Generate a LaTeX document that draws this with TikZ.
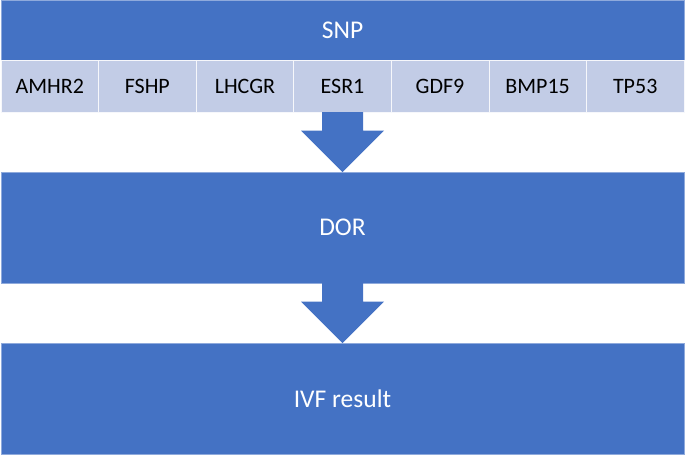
\documentclass[tikz,border=0pt]{standalone}
\usepackage{fontspec}
\setmainfont{Carlito}
\usetikzlibrary{positioning,calc}

\definecolor{boxblue}{RGB}{68,114,196}
\definecolor{boxedge}{RGB}{143,170,220}
\definecolor{cellblue}{RGB}{194,204,230}

\tikzset{
  bigbox/.style={fill=boxblue, draw=boxedge, line width=0.6pt, text=white,
    minimum width=683pt, inner sep=0pt, outer sep=0pt, anchor=north west,
    font=\fontsize{25.5}{30}\selectfont},
  genecell/.style={fill=cellblue, draw=white!85!cellblue, line width=0.6pt,
    minimum width=97.571pt, minimum height=52pt, inner sep=0pt, outer sep=0pt,
    anchor=north west, font=\fontsize{22}{26}\selectfont}
}

% block arrow from the bottom of #1 to the top of #2
\newcommand{\blockarrow}[2]{
  \fill[boxblue] ($(#1.south)+(-20.5,0)$) -- ($(#1.south)+(20.5,0)$)
    -- ($(#1.south)+(20.5,18.5)$) -- ($(#1.south)+(41.5,18.5)$)
    -- (#2.north)
    -- ($(#1.south)+(-41.5,18.5)$) -- ($(#1.south)+(-20.5,18.5)$) -- cycle;
}

\begin{document}
\begin{tikzpicture}[x=1pt,y=-1pt]
  \useasboundingbox (0,0) rectangle (685,456);

  \node[bigbox, minimum height=60pt] (snp) at (1,0) {SNP};
  \foreach \g [count=\i] in {AMHR2,FSHP,LHCGR,ESR1,GDF9,BMP15,TP53}
    \node[genecell] (g\i) at ({1+(\i-1)*97.571},60) {\g};

  \node[bigbox, minimum height=111pt] (dor) at (1,172) {DOR};
  \node[bigbox, minimum height=111pt] (ivf) at (1,343) {IVF result};

  \blockarrow{g4}{dor}
  \blockarrow{dor}{ivf}
\end{tikzpicture}
\end{document}
